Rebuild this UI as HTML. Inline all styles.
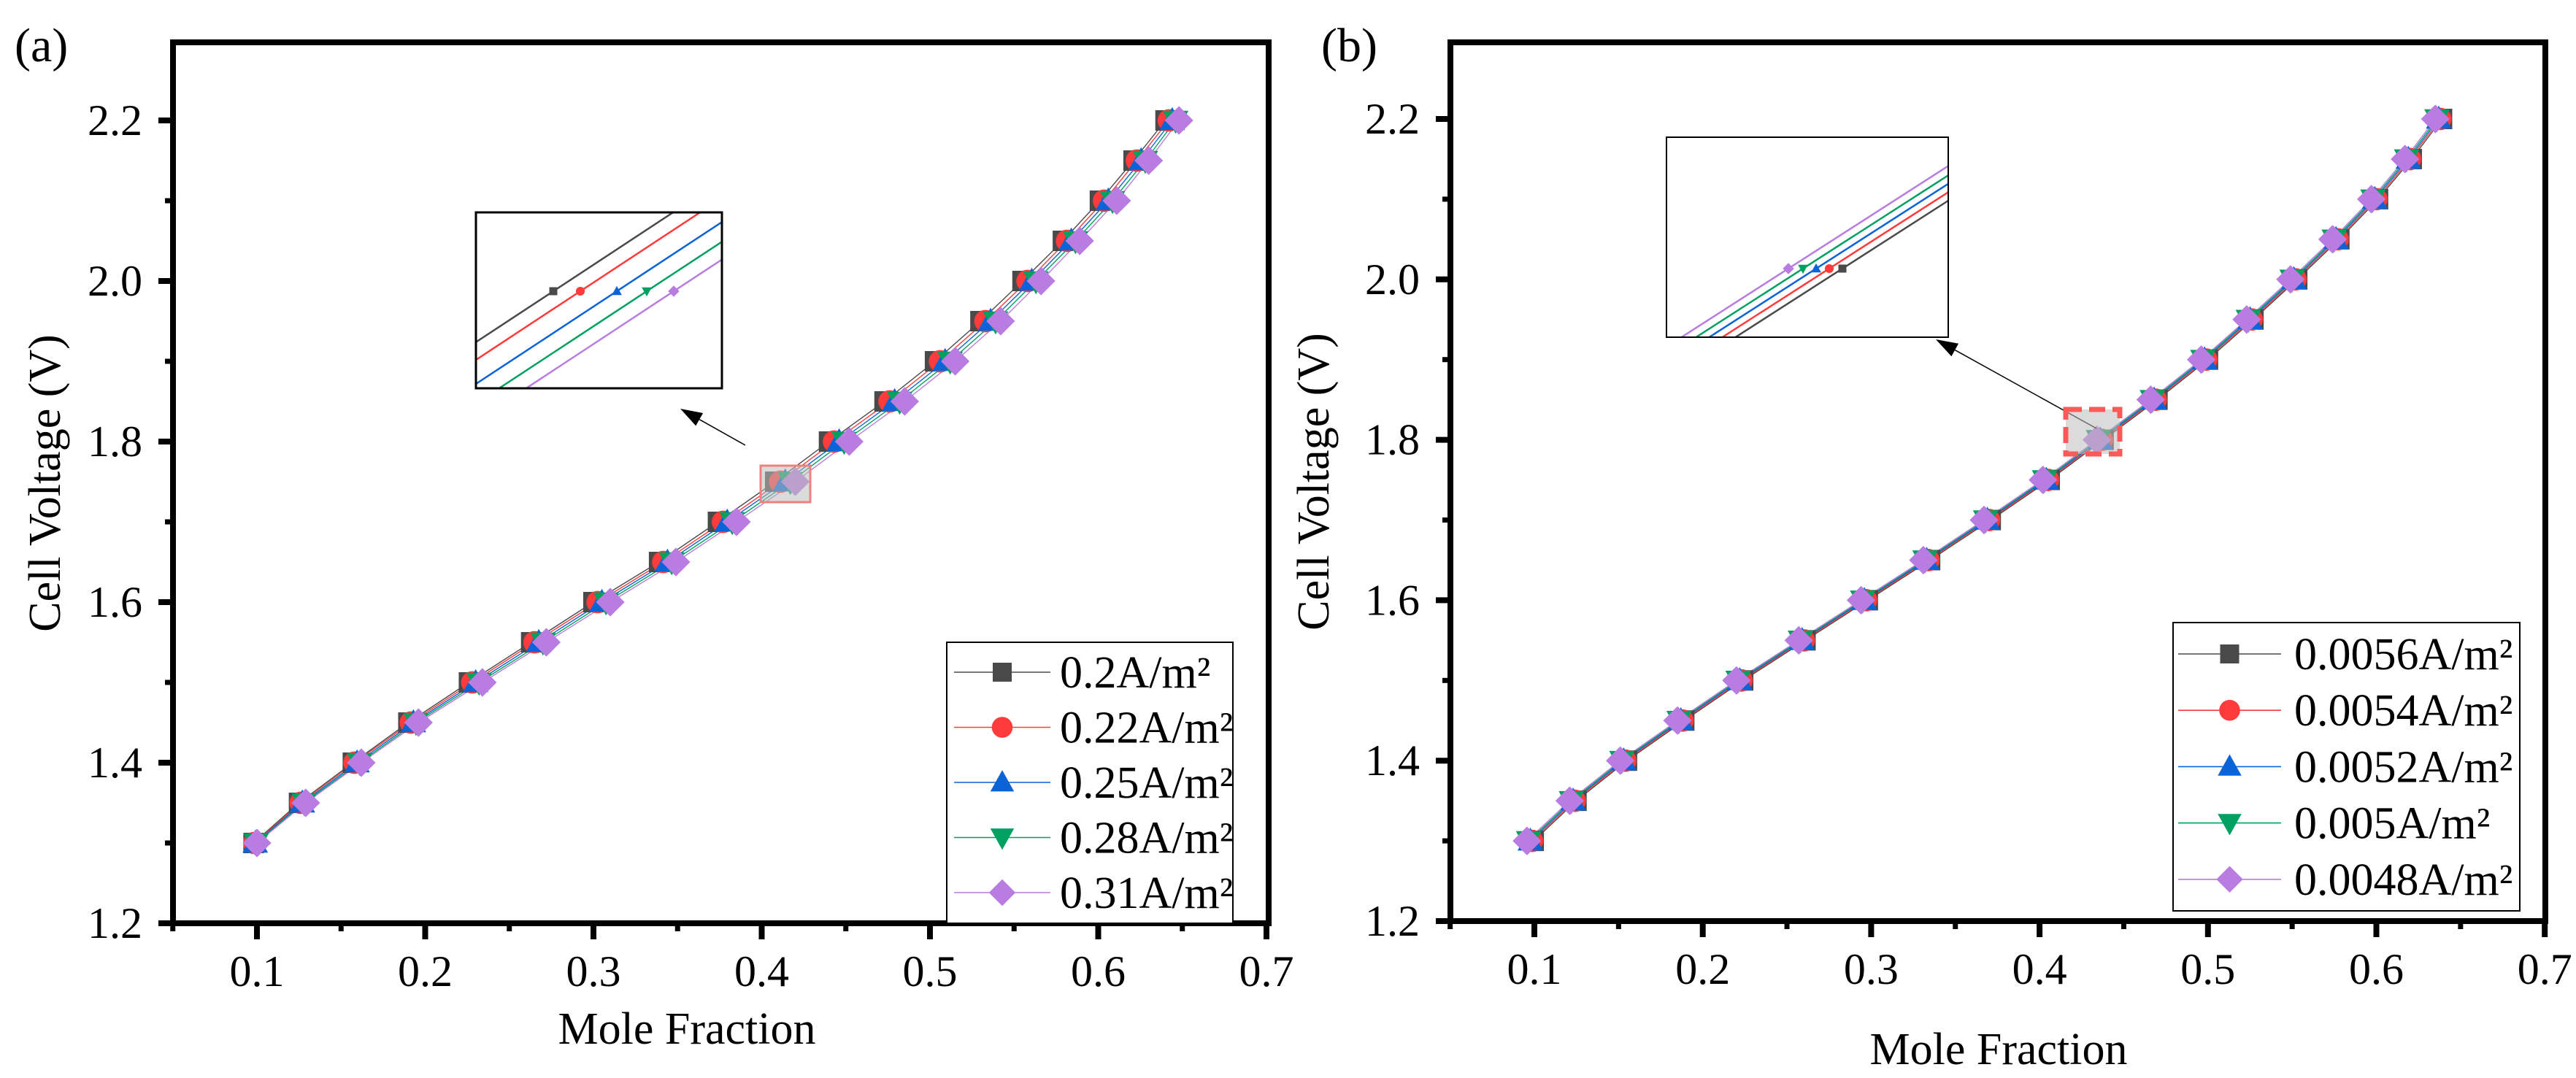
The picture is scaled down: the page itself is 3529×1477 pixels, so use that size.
<!DOCTYPE html>
<html><head><meta charset="utf-8">
<style>
html,body{margin:0;padding:0;background:#fff;}
svg, svg text{font-family:"Liberation Serif","DejaVu Serif",serif;}
</style></head>
<body>
<svg id="fig" width="3529" height="1472" viewBox="0 0 3529 1472" xmlns="http://www.w3.org/2000/svg" font-family="Liberation Serif, DejaVu Serif, serif">
<g id="pa"></g>
<g id="pb"></g>
</svg>
<script>
// ---- data ----
const yValues = [1.3,1.35,1.4,1.45,1.5,1.55,1.6,1.65,1.7,1.75,1.8,1.85,1.9,1.95,2.0,2.05,2.1,2.15,2.2];
const xTicks = [0.1,0.2,0.3,0.4,0.5,0.6,0.7];
const yTicks = [1.2,1.4,1.6,1.8,2.0,2.2];
const xTickLabels = ["0.1","0.2","0.3","0.4","0.5","0.6","0.7"];
const yTickLabels = ["1.2","1.4","1.6","1.8","2.0","2.2"];
// panel (a)
const aNames = ["0.2A/m²","0.22A/m²","0.25A/m²","0.28A/m²","0.31A/m²"];
const aX0 = [0.098,0.125,0.157,0.190,0.226,0.263,0.300,0.339,0.374,0.408,0.440,0.473,0.503,0.530,0.555,0.579,0.601,0.621,0.640];
const aX1 = [0.0985,0.126,0.158,0.1915,0.228,0.265,0.3025,0.3415,0.377,0.411,0.443,0.476,0.506,0.533,0.558,0.5815,0.6035,0.623,0.642];
const aX2 = [0.099,0.127,0.1595,0.193,0.230,0.2675,0.305,0.344,0.3795,0.414,0.446,0.479,0.509,0.536,0.5605,0.584,0.606,0.6255,0.644];
const aX3 = [0.0995,0.128,0.161,0.1945,0.232,0.270,0.3075,0.3465,0.3825,0.417,0.449,0.482,0.512,0.539,0.563,0.5865,0.6085,0.628,0.646];
const aX4 = [0.100,0.129,0.162,0.196,0.234,0.272,0.310,0.349,0.385,0.420,0.452,0.485,0.515,0.542,0.566,0.589,0.611,0.630,0.648];
// panel (b)
const bNames = ["0.0056A/m²","0.0054A/m²","0.0052A/m²","0.005A/m²","0.0048A/m²"];
const bX0 = [0.0996,0.125,0.155,0.189,0.224,0.261,0.298,0.335,0.371,0.406,0.438,0.470,0.500,0.527,0.553,0.578,0.601,0.621,0.639];
const bX1 = [0.0986,0.124,0.154,0.188,0.223,0.260,0.297,0.334,0.370,0.405,0.437,0.469,0.499,0.526,0.552,0.577,0.600,0.620,0.638];
const bX2 = [0.0976,0.123,0.153,0.187,0.222,0.259,0.296,0.333,0.369,0.404,0.436,0.468,0.498,0.525,0.551,0.576,0.599,0.619,0.637];
const bX3 = [0.0966,0.122,0.152,0.186,0.221,0.258,0.295,0.332,0.368,0.403,0.435,0.467,0.497,0.524,0.550,0.575,0.598,0.618,0.636];
const bX4 = [0.0956,0.121,0.151,0.185,0.220,0.257,0.294,0.331,0.367,0.402,0.434,0.466,0.496,0.523,0.549,0.574,0.597,0.617,0.635];

const colors = ["#4a4a4a","#ff3b3b","#0a64d8","#00a060","#b97ce0"];
const shapes = ["square","circle","up","down","diamond"];
const NS = "http://www.w3.org/2000/svg";
const FF = "Liberation Serif, DejaVu Serif, serif";

function el(tag, attrs, parent){
  const e = document.createElementNS(NS, tag);
  for (const k in attrs) e.setAttribute(k, attrs[k]);
  if (tag==="text") e.setAttribute("font-family", FF);
  parent.appendChild(e);
  return e;
}
function marker(g, shape, cx, cy, s, color){
  let m;
  if (shape==="square") m = el("rect",{x:cx-s,y:cy-s,width:2*s,height:2*s,fill:color},g);
  else if (shape==="circle") m = el("circle",{cx:cx,cy:cy,r:s*1.1,fill:color},g);
  else if (shape==="up") m = el("polygon",{points:`${cx},${cy-s*1.3} ${cx-s*1.25},${cy+s*0.95} ${cx+s*1.25},${cy+s*0.95}`,fill:color},g);
  else if (shape==="down") m = el("polygon",{points:`${cx},${cy+s*1.3} ${cx-s*1.25},${cy-s*0.95} ${cx+s*1.25},${cy-s*0.95}`,fill:color},g);
  else m = el("polygon",{points:`${cx},${cy-s*1.4} ${cx+s*1.4},${cy} ${cx},${cy+s*1.4} ${cx-s*1.4},${cy}`,fill:color},g);
  return m;
}

function panel(g, cfg){
  const X = v => cfg.x1 + (v-0.1)*cfg.px;
  const Y = v => cfg.y12 - (v-1.2)*cfg.py;
  cfg.series.forEach((xs,i)=>{
    const pts = xs.map((x,j)=>`${X(x).toFixed(1)},${Y(yValues[j]).toFixed(1)}`).join(" ");
    const pl = el("polyline",{points:pts,fill:"none",stroke:colors[i],"stroke-width":1.4},g);
    
    
  });
  cfg.series.forEach((xs,i)=>{
    xs.forEach((x,j)=>{
      const m = marker(g, shapes[i], X(x), Y(yValues[j]), 14, colors[i]);
      
      
    });
  });
  const fr = el("rect",{x:cfg.L,y:cfg.T,width:cfg.R-cfg.L,height:cfg.B-cfg.T,fill:"none",stroke:"#000","stroke-width":8},g);
  
  
  xTicks.forEach((v,i)=>{
    el("line",{x1:X(v),x2:X(v),y1:cfg.B,y2:cfg.B+22,stroke:"#000","stroke-width":8},g);
    el("line",{x1:X(v)-cfg.px*0.05,x2:X(v)-cfg.px*0.05,y1:cfg.B,y2:cfg.B+11,stroke:"#000","stroke-width":7},g);
    const t = el("text",{x:X(v),y:cfg.B+86,"font-size":60,"text-anchor":"middle"},g);
    t.textContent = xTickLabels[i];
    
    
  });
  yTicks.forEach((v,i)=>{
    el("line",{x1:cfg.L-20,x2:cfg.L,y1:Y(v),y2:Y(v),stroke:"#000","stroke-width":8},g);
    if (v<2.2) el("line",{x1:cfg.L-11,x2:cfg.L,y1:Y(v+0.1),y2:Y(v+0.1),stroke:"#000","stroke-width":7},g);
    const t = el("text",{x:cfg.L-42,y:Y(v)+20,"font-size":60,"text-anchor":"end"},g);
    t.textContent = yTickLabels[i];
    
    
  });
  const xt = el("text",{x:cfg.xtX,y:cfg.xtY,"font-size":62,"text-anchor":"middle"},g);
  xt.textContent = "Mole Fraction";
  
  
  const yt = el("text",{x:0,y:0,"font-size":62,"text-anchor":"middle",transform:`translate(${cfg.ytX},${cfg.ytY}) rotate(-90)`},g);
  yt.textContent = "Cell Voltage (V)";
  
  
  const pl = el("text",{x:cfg.plX,y:cfg.plY,"font-size":66},g);
  pl.textContent = cfg.label;
  
  
  const lg = el("g",{},g);
  
  
  el("rect",{x:cfg.lgL,y:cfg.lgT,width:cfg.lgW,height:cfg.lgH,fill:"#fff",stroke:"#000","stroke-width":2},lg);
  cfg.names.forEach((n,i)=>{
    const y = cfg.lgY0 + i*cfg.lgDy;
    const e = el("g",{},lg);
    
    
    el("line",{x1:cfg.lgLine0,x2:cfg.lgLine1,y1:y,y2:y,stroke:colors[i],"stroke-width":1.6},e);
    marker(e, shapes[i], (cfg.lgLine0+cfg.lgLine1)/2, y, 13, colors[i]);
    const t = el("text",{x:cfg.lgText,y:y+21,"font-size":62},e);
    t.textContent = n;
  });
}

panel(document.getElementById("pa"),{
  x1:352, px:2305, y12:1265, py:1100, L:237, R:1738, T:58, B:1265,
  series:[aX0,aX1,aX2,aX3,aX4], names:aNames,
  xtX:941, xtY:1430, ytX:82, ytY:662, plX:20, plY:84, label:"(a)",
  lgL:1297, lgT:880, lgW:392, lgH:385, lgY0:921, lgDy:75.5, lgLine0:1307, lgLine1:1439, lgText:1452
});
panel(document.getElementById("pb"),{
  x1:2102, px:2307, y12:1262, py:1099, L:1987, R:3487, T:58, B:1262,
  series:[bX0,bX1,bX2,bX3,bX4], names:bNames,
  xtX:2738, xtY:1458, ytX:1820, ytY:660, plX:1810, plY:84, label:"(b)",
  lgL:2977, lgT:853, lgW:475, lgH:395, lgY0:896, lgDy:77.2, lgLine0:2984, lgLine1:3125, lgText:3143
});

function inset(g, r, slope, mY, mXs, name){
  const ig = el("g",{},g);
  
  
  const id = name+"-clip";
  const cp = el("clipPath",{id:id},ig);
  el("rect",{x:r.x,y:r.y,width:r.w,height:r.h},cp);
  el("rect",{x:r.x,y:r.y,width:r.w,height:r.h,fill:"#fff"},ig);
  const cg = el("g",{"clip-path":`url(#${id})`},ig);
  mXs.forEach((mx,i)=>{
    const x0 = mx - 600, x1 = mx + 600;
    el("line",{x1:x0,y1:mY - slope*(x0-mx),x2:x1,y2:mY - slope*(x1-mx),stroke:colors[i],"stroke-width":2.5},cg);
    marker(cg, shapes[i], mx, mY, 5.5, colors[i]);
  });
  el("rect",{x:r.x,y:r.y,width:r.w,height:r.h,fill:"none",stroke:"#000","stroke-width":r.sw},ig);
}
const ga = document.getElementById("pa"), gb = document.getElementById("pb");
inset(ga,{x:652,y:291,w:337,h:241,sw:3},0.658,399,[758,795,845,886,923],"inset-a");
inset(gb,{x:2283,y:188,w:386,h:274,sw:2},0.642,368,[2524,2506,2488,2470,2450],"inset-b");

function arrow(g, x1,y1,x2,y2){
  const a = el("g",{},g);
  
  
  const ang = Math.atan2(y2-y1,x2-x1), L=30, W=10;
  const bx = x2 - L*Math.cos(ang), by = y2 - L*Math.sin(ang);
  el("line",{x1:x1,y1:y1,x2:bx,y2:by,stroke:"#000","stroke-width":1.5},a);
  el("polygon",{points:`${x2},${y2} ${bx - W*Math.sin(ang)},${by + W*Math.cos(ang)} ${bx + W*Math.sin(ang)},${by - W*Math.cos(ang)}`,fill:"#000"},a);
}
arrow(ga,1021,610,932,560);
arrow(gb,2872,587,2652,465);
const ha = el("rect",{x:1042,y:638,width:68,height:50,fill:"rgba(190,190,190,0.55)",stroke:"#f08080","stroke-width":3},ga);


const hb = el("rect",{x:2830,y:561,width:74,height:61,fill:"rgba(190,190,190,0.55)",stroke:"#ff5a5a","stroke-width":7,"stroke-dasharray":"22,10"},gb);


</script>
</body></html>
